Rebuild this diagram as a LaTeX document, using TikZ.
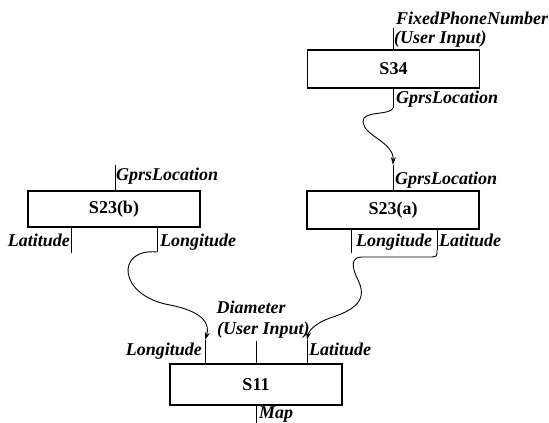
\documentclass[tikz,border=0pt]{standalone}
\usepackage{fontspec}
\setmainfont{Liberation Serif}
\usetikzlibrary{arrows.meta,positioning,calc}

\tikzset{
  svcbox/.style={draw, line width=1.1pt, minimum width=172pt, inner sep=0pt,
                 font=\fontsize{18}{20}\selectfont\bfseries},
  portlbl/.style={inner sep=0pt, font=\fontsize{18}{20}\selectfont\bfseries\itshape},
  port/.style={line width=0.8pt},
  link/.style={line width=0.9pt, -{Stealth[length=8pt,width=5pt]}},
}

\begin{document}
\begin{tikzpicture}[x=1pt,y=-1pt]
  \useasboundingbox (0,0) rectangle (549,423);
  % services
  \node[svcbox, minimum height=38pt] (s34) at (393.5,69) {S34};
  \node[svcbox, minimum height=36pt] (s23b) at (114,209) {S23(b)};
  \node[svcbox, minimum height=38pt] (s23a) at (393,210) {S23(a)};
  \node[svcbox, minimum height=41pt] (s11) at (256,384.5) {S11};

  % port ends
  \coordinate (s34in) at (393,28);
  \coordinate (s34out) at (393,108);
  \coordinate (s23bin) at (115,165);
  \coordinate (s23blat) at (71,253);
  \coordinate (s23blon) at (157,252);
  \coordinate (s23ain) at (393,165);
  \coordinate (s23alon) at (351,253);
  \coordinate (s23alat) at (437,250);
  \coordinate (s11lon) at (205,340);
  \coordinate (s11dia) at (256,341);
  \coordinate (s11lat) at (307,340);
  \coordinate (s11map) at (256,423);

  % port lines
  \draw[port] (s34in) -- (s34in |- s34.north);
  \draw[port] (s34out |- s34.south) -- (s34out);
  \draw[port] (s23bin) -- (s23bin |- s23b.north);
  \draw[port] (s23blat |- s23b.south) -- (s23blat);
  \draw[port] (s23blon |- s23b.south) -- (s23blon);
  \draw[port] (s23ain) -- (s23ain |- s23a.north);
  \draw[port] (s23alon |- s23a.south) -- (s23alon);
  \draw[port] (s23alat |- s23a.south) -- (s23alat);
  \draw[port] (s11lon) -- (s11lon |- s11.north);
  \draw[port] (s11dia) -- (s11dia |- s11.north);
  \draw[port] (s11lat) -- (s11lat |- s11.north);
  \draw[port] (s11map |- s11.south) -- (s11map);

  % labels
  \node[portlbl, anchor=base west] (l34fix) at (396,24) {FixedPhoneNumber};
  \node[portlbl, anchor=base west] (l34usr) at (394,43) {(User Input)};
  \node[portlbl, anchor=base west] (l34gprs) at (396,103) {GprsLocation};
  \node[portlbl, anchor=base west] (lbgprs) at (116,180) {GprsLocation};
  \node[portlbl, anchor=base east] (lblat) at (70,246) {Latitude};
  \node[portlbl, anchor=base west] (lblon) at (160,246) {Longitude};
  \node[portlbl, anchor=base west] (lagprs) at (395,184) {GprsLocation};
  \node[portlbl, anchor=base west] (lalon) at (356,246) {Longitude};
  \node[portlbl, anchor=base west] (lalat) at (439,246) {Latitude};
  \node[portlbl, anchor=base] (l11dia) at (251,313) {Diameter};
  \node[portlbl, anchor=base west] (l11usr) at (217,334) {(User Input)};
  \node[portlbl, anchor=base east] (l11lon) at (202,355) {Longitude};
  \node[portlbl, anchor=base west] (l11lat) at (309,355) {Latitude};
  \node[portlbl, anchor=base west] (l11map) at (259,418) {Map};

  % links
  \draw[link] (s34out) .. controls (390,116) and (362,110) .. (363,122)
    .. controls (364,136) and (394,142) .. (s23ain);
  \draw[link] (s23blon) .. controls (115,248) and (118,296) .. (170,305)
    .. controls (205,312) and (210,325) .. (s11lon);
  \draw[link] (s23alat) .. controls (437,257) .. (428,257) -- (362,257)
    .. controls (350,257) and (352,268) .. (358,280)
    .. controls (368,300) and (355,310) .. (330,318)
    .. controls (316,323) and (309,330) .. (s11lat);
\end{tikzpicture}
\end{document}
